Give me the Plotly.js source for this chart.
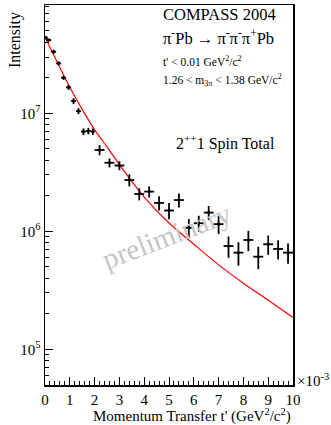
<!DOCTYPE html>
<html>
<head>
<meta charset="utf-8">
<script src="https://cdn.plot.ly/plotly-3.0.1.min.js"></script>
<style>
html,body{margin:0;padding:0;background:#fff;}
#chart{width:331px;height:425px;}
</style>
</head>
<body>
<div id="chart"></div>
<script>
// t' bin centres (units of 1e-3 GeV^2/c^2)
var tCenter = [0.05,0.15,0.35,0.55,0.75,0.95,1.15,1.35,1.55,1.75,1.93,
  2.2,2.6,3.0,3.4,3.8,4.2,4.6,5.0,5.4,5.8,6.2,6.6,7.0,7.4,7.8,8.2,8.6,9.0,9.4,9.8];
// half bin widths
var tHalfWidth = [0.05,0.1,0.1,0.1,0.1,0.1,0.1,0.1,0.1,0.1,0.08,
  0.2,0.2,0.2,0.2,0.2,0.2,0.2,0.2,0.2,0.2,0.2,0.2,0.2,0.2,0.2,0.2,0.2,0.2,0.2,0.2];
// intensity
var intensity = [4.37e7,4.18e7,3.33e7,2.65e7,2.0e7,1.66e7,1.27e7,1.045e7,7.0e6,7.08e6,7.0e6,
  4.89e6,3.81e6,3.61e6,2.72e6,2.07e6,2.17e6,1.74e6,1.50e6,1.84e6,1.07e6,1.17e6,1.44e6,1.15e6,
  7.5e5,6.59e5,8.44e5,6.09e5,7.76e5,7.08e5,6.59e5];
// intensity errors
var intensityErr = [1.2e6,1.2e6,1.3e6,1.03e6,7.8e5,8.1e5,7.4e5,6.1e5,4.5e5,4.5e5,4.5e5,
  4.77e5,3.34e5,3.17e5,3.18e5,2.42e5,2.33e5,2.38e5,2.34e5,2.51e5,1.98e5,1.83e5,1.97e5,2.02e5,
  1.54e5,1.48e5,1.65e5,1.31e5,1.44e5,1.31e5,1.29e5];
// fit curve
var fitT = [0,0.5,1.0,1.5,2.0,2.5,3.0,4.0,5.0,6.0,7.0,8.0,9.0,10.0];
var fitIntensity = [4.42e7,2.69e7,1.66e7,1.08e7,7.24e6,5.19e6,3.67e6,1.95e6,1.175e6,7.76e5,5.19e5,3.63e5,2.60e5,1.86e5];
// tick labels
var xTickVals = [0,1,2,3,4,5,6,7,8,9,10];
var xTickText = ['0','1','2','3','4','5','6','7','8','9','10'];
var yTickVals = [1e5,1e6,1e7];
var yTickText = ['10<sup>5</sup>','10<sup>6</sup>','10<sup>7</sup>'];

var serif = 'Liberation Serif, Times New Roman, serif';

var traces = [
  {
    x: fitT, y: fitIntensity, type: 'scatter', mode: 'lines',
    line: {color: '#ff0000', width: 1.2, shape: 'spline', smoothing: 0.8},
    hoverinfo: 'skip'
  },
  {
    x: tCenter, y: intensity, type: 'scatter', mode: 'markers',
    marker: {color: '#000', size: 3},
    error_x: {type: 'data', array: tHalfWidth, color: '#000', thickness: 1.8, width: 0},
    error_y: {type: 'data', array: intensityErr, color: '#000', thickness: 1.8, width: 0}
  }
];

function px2x(px){ return (px-45)/248; }
function py2y(py){ return (385-py)/380; }

var layout = {
  width: 331, height: 425,
  margin: {l: 45, r: 38, t: 5, b: 40},
  paper_bgcolor: '#fff', plot_bgcolor: '#fff',
  showlegend: false,
  font: {family: serif, color: '#000', size: 15},
  xaxis: {
    range: [0, 10], tickvals: xTickVals, ticktext: xTickText,
    ticks: 'inside', ticklen: 8, tickwidth: 1, tickcolor: '#000',
    showline: true, linecolor: '#000', linewidth: 1.5, mirror: true,
    showgrid: false, zeroline: false,
    tickfont: {family: serif, size: 15, color: '#000'},
    minor: {dtick: 0.2, ticks: 'inside', ticklen: 4, tickcolor: '#000', tickwidth: 1, showgrid: false}
  },
  yaxis: {
    type: 'log', range: [4.697, 7.918],
    tickvals: yTickVals, ticktext: yTickText,
    ticks: 'inside', ticklen: 8, tickwidth: 1, tickcolor: '#000',
    showline: true, linecolor: '#000', linewidth: 1.5, mirror: true,
    showgrid: false, zeroline: false,
    tickfont: {family: serif, size: 15, color: '#000'},
    minor: {dtick: 'D1', ticks: 'inside', ticklen: 4, tickcolor: '#000', tickwidth: 1, showgrid: false}
  },
  annotations: [
    {xref:'paper', yref:'paper', x: px2x(167), y: py2y(236), xanchor:'center', yanchor:'middle',
     text:'preliminary', textangle:-21, showarrow:false, font:{family:serif, size:29, color:'#c6c6c6'}},
    {xref:'paper', yref:'paper', x: px2x(161), y: py2y(15), xanchor:'left', yanchor:'middle',
     text:'COMPASS 2004', showarrow:false, font:{family:serif, size:16.5}},
    {xref:'paper', yref:'paper', x: px2x(161), y: py2y(37), xanchor:'left', yanchor:'middle',
     text:'π<sup>-</sup>Pb → π<sup>-</sup>π<sup>-</sup>π<sup>+</sup>Pb', showarrow:false, font:{family:serif, size:16.5}},
    {xref:'paper', yref:'paper', x: px2x(161), y: py2y(61), xanchor:'left', yanchor:'middle',
     text:"t' < 0.01 GeV<sup>2</sup>/c<sup>2</sup>", showarrow:false, font:{family:serif, size:11.5}},
    {xref:'paper', yref:'paper', x: px2x(161), y: py2y(80), xanchor:'left', yanchor:'middle',
     text:'1.26 < m<sub>3π</sub> < 1.38 GeV/c<sup>2</sup>', showarrow:false, font:{family:serif, size:11.5}},
    {xref:'paper', yref:'paper', x: px2x(174), y: py2y(142), xanchor:'left', yanchor:'middle',
     text:'2<sup>++</sup>1 Spin Total', showarrow:false, font:{family:serif, size:16}},
    {xref:'paper', yref:'paper', x: px2x(295), y: py2y(380), xanchor:'left', yanchor:'middle',
     text:'×10<sup>-3</sup>', showarrow:false, font:{family:serif, size:15}},
    {xref:'paper', yref:'paper', x: 1, y: py2y(415), xanchor:'right', yanchor:'middle',
     text:"Momentum Transfer t' (GeV<sup>2</sup>/c<sup>2</sup>)", showarrow:false, font:{family:serif, size:15}},
    {xref:'paper', yref:'paper', x: px2x(15), y: py2y(10), xanchor:'center', yanchor:'top',
     text:'Intensity', textangle:-90, showarrow:false, font:{family:serif, size:16}}
  ]
};

Plotly.newPlot('chart', traces, layout, {displayModeBar: false, staticPlot: true});
</script>
</body>
</html>
